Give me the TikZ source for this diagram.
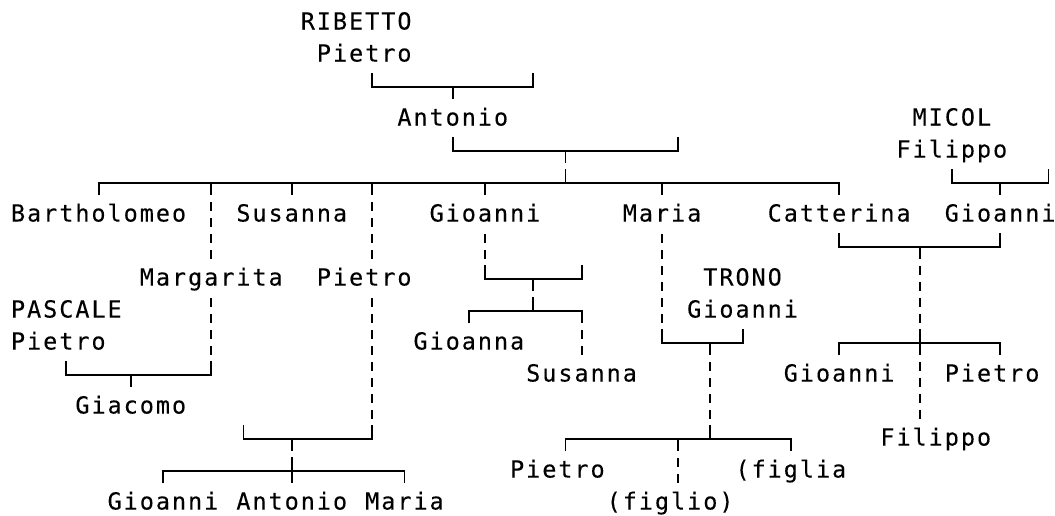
\documentclass[tikz,border=0pt]{standalone}
\usepackage{fontspec}
\newfontfamily\dmono[FakeBold=0.12]{DejaVu Sans Mono}
\newlength\cw \setlength\cw{16.1pt}
\ExplSyntaxOn
\NewDocumentCommand\spacedtext{m}{\tl_map_inline:nn{#1}{\makebox[\cw][c]{##1}}}
\ExplSyntaxOff
\tikzset{
  lbl/.style={font=\dmono\fontsize{23.5}{28}\selectfont, inner sep=0pt, outer sep=0pt, anchor=base west, text=black},
  conn/.style={line width=1.9pt, draw=black, line join=miter},
  dashconn/.style={conn, dash pattern=on 9pt off 7pt},
}
% text node: name, first column, row, text
\newcommand\lab[4]{\node[lbl] (#1) at ({#2-0.5},{#3+0.194}) {\spacedtext{#4}};}
% bar with both ends going up / down: from col, to col, row
\newcommand\bup[3]{\draw[conn] (#1,{#3-0.4375}) -- (#1,#3) -- (#2,#3) -- (#2,{#3-0.4375});}
\newcommand\bdn[3]{\draw[conn] (#1,{#3+0.375}) -- (#1,#3) -- (#2,#3) -- (#2,{#3+0.375});}
% ticks: col, row
\newcommand\tdn[2]{\draw[conn] (#1,#2) coordinate (d#1r#2) -- (#1,{#2+0.375});}
\newcommand\tup[2]{\draw[conn] (#1,#2) coordinate (u#1r#2) -- (#1,{#2-0.4375});}
% dashed run: col, first row, last row
\newcommand\dsh[3]{\draw[dashconn] (#1,{#2-0.4219}) -- (#1,{#3+0.3594});}
\begin{document}
\begin{tikzpicture}[x=1pt,y=-1pt]
\useasboundingbox (0,0) rectangle (1055,515);
\begin{scope}[shift={(18.05,23.3)},x=16.1pt,y=-32pt]
% ---- names ----
\lab{ribetto}{18}{0}{RIBETTO}
\lab{pietroR}{19}{1}{Pietro}
\lab{antonio}{24}{3}{Antonio}
\lab{micol}{56}{3}{MICOL}
\lab{filippoM}{55}{4}{Filippo}
\lab{bartholomeo}{0}{6}{Bartholomeo}
\lab{susanna}{14}{6}{Susanna}
\lab{gioanni}{26}{6}{Gioanni}
\lab{maria}{38}{6}{Maria}
\lab{catterina}{47}{6}{Catterina}
\lab{gioanniM}{58}{6}{Gioanni}
\lab{margarita}{8}{8}{Margarita}
\lab{pietro}{19}{8}{Pietro}
\lab{trono}{43}{8}{TRONO}
\lab{pascale}{0}{9}{PASCALE}
\lab{gioanniT}{42}{9}{Gioanni}
\lab{pietroP}{0}{10}{Pietro}
\lab{gioanna}{25}{10}{Gioanna}
\lab{susannaG}{32}{11}{Susanna}
\lab{gioanniC}{48}{11}{Gioanni}
\lab{pietroC}{58}{11}{Pietro}
\lab{giacomo}{4}{12}{Giacomo}
\lab{filippoC}{54}{13}{Filippo}
\lab{pietroT}{31}{14}{Pietro}
\lab{figlia}{45}{14}{(figlia}
\lab{gioanniA}{6}{15}{Gioanni}
\lab{antonioA}{14}{15}{Antonio}
\lab{mariaA}{22}{15}{Maria}
\lab{figlio}{37}{15}{(figlio)}
% ---- RIBETTO Pietro -> Antonio ----
\bup{22}{32}{2} \tdn{27}{2}
% ---- Antonio -> children ----
\bup{27}{41}{4} \tdn{34}{4}
\bdn{5}{51}{5} \tup{34}{5}
\tdn{12}{5} \tdn{17}{5} \tdn{22}{5} \tdn{29}{5} \tdn{40}{5}
% ---- MICOL Filippo -> Gioanni ----
\bup{58}{64}{5} \tdn{61}{5}
% ---- Margarita x PASCALE Pietro -> Giacomo ----
\dsh{12}{6}{7} \dsh{12}{9}{10}
\bup{3}{12}{11} \tdn{7}{11}
% ---- Pietro -> Gioanni, Antonio, Maria ----
\dsh{22}{6}{7} \dsh{22}{9}{12}
\bup{14}{22}{13} \tdn{17}{13}
\bdn{9}{24}{14} \tup{17}{14} \tdn{17}{14}
% ---- Gioanni -> Gioanna, Susanna ----
\dsh{29}{7}{7}
\bup{29}{35}{8} \tdn{32}{8}
\bdn{28}{35}{9} \tup{32}{9}
\dsh{35}{10}{10}
% ---- Maria x TRONO Gioanni -> children ----
\dsh{40}{7}{9}
\bup{40}{45}{10} \tdn{43}{10}
\dsh{43}{11}{12}
\bdn{34}{48}{13} \tup{43}{13} \tdn{41}{13}
\dsh{41}{14}{14}
% ---- Catterina x Gioanni -> children ----
\bup{51}{61}{7} \tdn{56}{7}
\dsh{56}{8}{9}
\bdn{51}{61}{10} \tup{56}{10} \tdn{56}{10}
\dsh{56}{11}{12}
\end{scope}
\end{tikzpicture}
\end{document}
